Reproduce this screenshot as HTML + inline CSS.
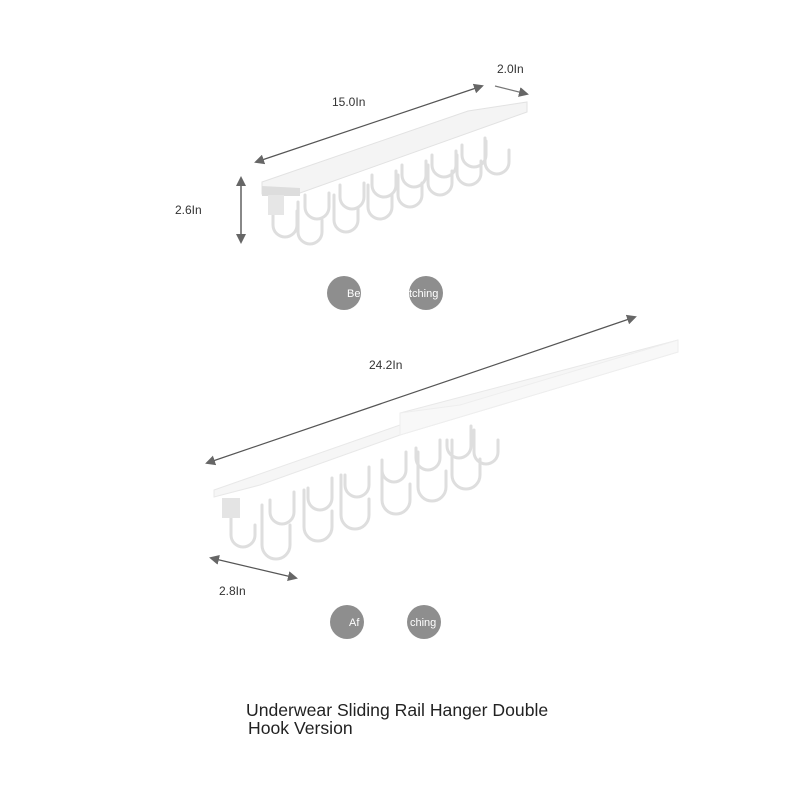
<!DOCTYPE html>
<html><head><style>
body{margin:0;background:#fff;}
svg{display:block}
text{font-family:"Liberation Sans",sans-serif;}
</style></head><body>
<svg width="800" height="800" viewBox="0 0 800 800">
<defs>
<marker id="a" markerWidth="10" markerHeight="10" refX="8" refY="5" orient="auto" markerUnits="userSpaceOnUse"><path d="M0,0 L10,5 L0,10 Z" fill="#666"/></marker>
<marker id="b" markerWidth="10" markerHeight="10" refX="2" refY="5" orient="auto" markerUnits="userSpaceOnUse"><path d="M10,0 L0,5 L10,10 Z" fill="#666"/></marker>
</defs>
<line x1="256" y1="162" x2="482" y2="86" stroke="#555" stroke-width="1.2" marker-start="url(#b)" marker-end="url(#a)"/>
<line x1="495" y1="86" x2="527" y2="94" stroke="#777" stroke-width="1.2" marker-end="url(#a)"/>
<text x="332" y="106" font-size="12" fill="#333">15.0In</text>
<text x="497" y="73" font-size="12" fill="#333">2.0In</text>
<line x1="241" y1="178" x2="241" y2="242" stroke="#888" stroke-width="2" marker-start="url(#b)" marker-end="url(#a)"/>
<text x="175" y="214" font-size="12" fill="#333">2.6In</text>
<g fill="none" stroke="#dedede" stroke-width="3" stroke-linecap="round">
<path d="M273,205 v20 a12,12 0 0 0 24,0 v-14"/>
<path d="M298,202 v30 a12,12 0 0 0 24,0 v-12"/>
<path d="M305,195 v12 a12,12 0 0 0 24,0 v-14"/>
<path d="M334,195 v25 a12,12 0 0 0 24,0 v-12"/>
<path d="M340,185 v12 a12,12 0 0 0 24,0 v-14"/>
<path d="M368,185 v22 a12,12 0 0 0 24,0 v-12"/>
<path d="M372,175 v10 a12,12 0 0 0 24,0 v-14"/>
<path d="M398,175 v20 a12,12 0 0 0 24,0 v-12"/>
<path d="M402,165 v10 a12,12 0 0 0 24,0 v-14"/>
<path d="M428,165 v18 a12,12 0 0 0 24,0 v-12"/>
<path d="M432,155 v10 a12,12 0 0 0 24,0 v-14"/>
<path d="M457,155 v18 a12,12 0 0 0 24,0 v-12"/>
<path d="M462,145 v10 a12,12 0 0 0 24,0 v-14"/>
<path d="M485,138 v24 a12,12 0 0 0 24,0 v-12"/>
</g>
<polygon points="262,182 468,111 527,102 527,112 300,193 262,194" fill="#f4f4f4" stroke="#e2e2e2"/>
<polygon points="262,186 300,188 300,196 262,196" fill="#ddd"/>
<rect x="268" y="195" width="16" height="20" fill="#e6e6e6"/>
<circle cx="344" cy="293" r="17" fill="#8e8e8e"/>
<circle cx="426" cy="293" r="17" fill="#8e8e8e"/>
<text x="347" y="297" font-size="11" fill="#fff">Be</text>
<text x="409" y="297" font-size="11" fill="#fff">tching</text>
<line x1="207" y1="463" x2="635" y2="317" stroke="#555" stroke-width="1.2" marker-start="url(#b)" marker-end="url(#a)"/>
<text x="369" y="369" font-size="12" fill="#333">24.2In</text>
<line x1="211" y1="558" x2="296" y2="578" stroke="#555" stroke-width="1.2" marker-start="url(#b)" marker-end="url(#a)"/>
<text x="219" y="595" font-size="12" fill="#333">2.8In</text>
<g fill="none" stroke="#dedede" stroke-width="3" stroke-linecap="round">
<path d="M231,505 v30 a12,12 0 0 0 24,0 v-10"/>
<path d="M262,505 v40 a14,14 0 0 0 28,0 v-20"/>
<path d="M270,500 v12 a12,12 0 0 0 24,0 v-20"/>
<path d="M304,490 v37 a14,14 0 0 0 28,0 v-16"/>
<path d="M308,488 v10 a12,12 0 0 0 24,0 v-20"/>
<path d="M341,475 v40 a14,14 0 0 0 28,0 v-16"/>
<path d="M345,475 v10 a12,12 0 0 0 24,0 v-18"/>
<path d="M382,465 v35 a14,14 0 0 0 28,0 v-16"/>
<path d="M382,460 v10 a12,12 0 0 0 24,0 v-18"/>
<path d="M418,452 v35 a14,14 0 0 0 28,0 v-16"/>
<path d="M416,448 v10 a12,12 0 0 0 24,0 v-18"/>
<path d="M452,440 v35 a14,14 0 0 0 28,0 v-16"/>
<path d="M447,440 v6 a12,12 0 0 0 24,0 v-20"/>
<path d="M474,430 v22 a12,12 0 0 0 24,0 v-12"/>
</g>
<polygon points="214,490 400,425 400,413 678,340 678,352 400,435 260,485 214,497" fill="#f6f6f6" stroke="#e8e8e8"/>
<polygon points="400,413 460,405 678,340 678,352 400,435" fill="#f8f8f8" stroke="#eee"/>
<rect x="222" y="498" width="18" height="20" fill="#e4e4e4"/>
<circle cx="347" cy="622" r="17" fill="#8e8e8e"/>
<circle cx="424" cy="622" r="17" fill="#8e8e8e"/>
<text x="349" y="626" font-size="11" fill="#fff">Af</text>
<text x="410" y="626" font-size="11" fill="#fff">ching</text>
<text x="246" y="716" font-size="17.6" fill="#222">Underwear Sliding Rail Hanger Double</text>
<text x="248" y="734" font-size="17.6" fill="#222">Hook Version</text>
</svg>
</body></html>
